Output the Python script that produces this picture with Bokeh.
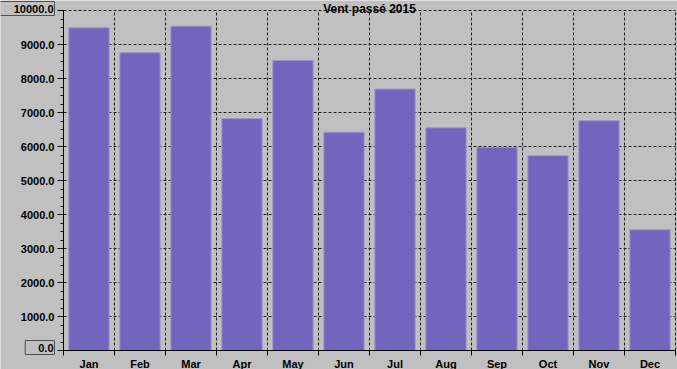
from bokeh.plotting import figure
from bokeh.models import FixedTicker, Range1d, Label, NumeralTickFormatter, ColumnDataSource, Grid
from bokeh.embed import file_html
from bokeh.resources import INLINE

months = ["Jan", "Feb", "Mar", "Apr", "May", "Jun", "Jul", "Aug", "Sep", "Oct", "Nov", "Dec"]
values = [9490, 8760, 9540, 6820, 8530, 6420, 7690, 6550, 5970, 5730, 6760, 3550]
y_ticks = [0, 1000, 2000, 3000, 4000, 5000, 6000, 7000, 8000, 9000, 10000]
title_text = "Vent passé 2015"

BG = "#c0c0c0"
FONT = "Liberation Sans"
W, H = 677, 369
PL, PR, PT, PB = 63, 675, 10, 350          # plot-area pixel box inside the canvas
n = len(months)
ymax = y_ticks[-1]
sx = (PR - PL) / n                          # px per category
sy = (PB - PT) / ymax                       # px per unit

x_range = Range1d(-PL / sx, n + (W - PR) / sx)
y_range = Range1d(-(H - PB) / sy, ymax + PT / sy)

p = figure(width=W, height=H, output_backend="svg", toolbar_location=None,
           x_range=x_range, y_range=y_range,
           min_border_left=0, min_border_right=0, min_border_top=0, min_border_bottom=0)
p.background_fill_color = BG
p.border_fill_color = BG
p.outline_line_color = None

centers = [i + 0.5 for i in range(n)]
bounds_x = list(range(n + 1))

# grids
p.xgrid.ticker = FixedTicker(ticks=bounds_x)
p.ygrid.ticker = FixedTicker(ticks=y_ticks)
has_cross = "cross_bounds" in Grid.properties()
for g, b, cb in ((p.xgrid[0], (0, n), (0, ymax)), (p.ygrid[0], (0, ymax), (0, n))):
    g.grid_line_color = "#222222"
    g.grid_line_dash = "3 2"
    g.grid_line_width = 1
    g.bounds = b
    if has_cross:
        g.cross_bounds = cb
    else:
        g.visible = False
if not has_cross:
    p.segment(x0=bounds_x, y0=[0] * len(bounds_x), x1=bounds_x, y1=[ymax] * len(bounds_x),
              line_color="#222222", line_dash="3 2", line_width=1)
    p.segment(x0=[0] * len(y_ticks), y0=y_ticks, x1=[n] * len(y_ticks), y1=y_ticks,
              line_color="#222222", line_dash="3 2", line_width=1)

src = ColumnDataSource(dict(x=centers, top=values))
p.vbar(x="x", top="top", bottom=0, width=0.79, source=src,
       fill_color="#7265bd", line_color="#9d95d1", line_width=1)

# x axis (fixed inside the full-canvas frame)
xa = p.xaxis[0]
xa.fixed_location = 0
xa.bounds = (0, n)
xa.ticker = FixedTicker(ticks=centers, minor_ticks=bounds_x)
xa.major_label_overrides = {c: m for c, m in zip(centers, months)}
xa.major_tick_out = 0
xa.major_tick_in = 0
xa.minor_tick_out = 5
xa.minor_tick_in = 0
xa.minor_tick_line_color = "black"
xa.axis_line_color = "black"
xa.major_label_standoff = 2
xa.major_label_text_font = FONT
xa.major_label_text_font_style = "bold"
xa.major_label_text_font_size = "11px"
xa.major_label_text_color = "black"

# y axis
minor = [v for v in range(0, ymax + 1, 250) if v % 1000 != 0]
ya = p.yaxis[0]
ya.fixed_location = 0
ya.bounds = (0, ymax)
ya.ticker = FixedTicker(ticks=y_ticks, minor_ticks=minor)
ya.formatter = NumeralTickFormatter(format="0.0")
ya.major_label_overrides = {y_ticks[0]: " ", y_ticks[-1]: " "}
ya.major_tick_out = 6
ya.major_tick_in = 0
ya.minor_tick_out = 3
ya.minor_tick_in = 0
ya.major_tick_line_color = "black"
ya.minor_tick_line_color = "black"
ya.axis_line_color = "black"
ya.major_label_standoff = 3
ya.major_label_text_font = FONT
ya.major_label_text_font_style = "bold"
ya.major_label_text_font_size = "11px"
ya.major_label_text_color = "black"

# boxed min / max labels
for val, dy, lpad in ((y_ticks[0], 3, 13), (y_ticks[-1], 2, 15)):
    lab = Label(x=-9 / sx, y=val + dy / sy, text="%.1f" % val,
                text_align="right", text_baseline="middle",
                text_font=FONT, text_font_style="bold", text_font_size="11px",
                text_color="black", border_line_color="#505050",
                background_fill_color=BG,
                padding=dict(left=lpad, right=1, top=3, bottom=3))
    p.add_layout(lab)

title = Label(x=n / 2, y=ymax + 1.5 / sy, text=title_text, text_align="center",
              text_baseline="middle", text_font=FONT, text_font_style="bold",
              text_font_size="12px", text_color="black")
p.add_layout(title)

open("out.html", "w").write(file_html(p, INLINE))
